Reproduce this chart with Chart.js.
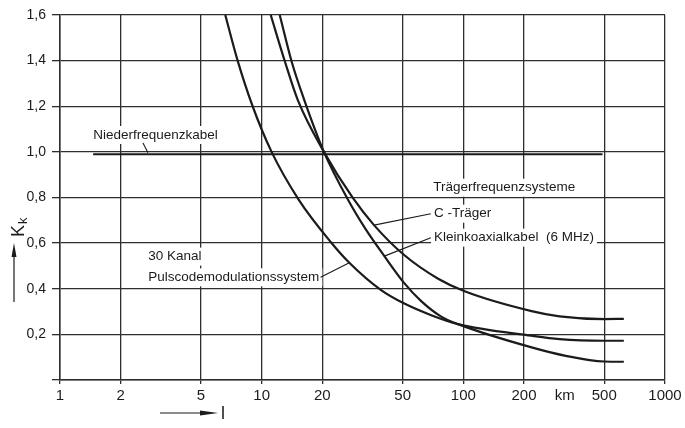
<!DOCTYPE html>
<html><head><meta charset="utf-8">
<script src="https://cdn.jsdelivr.net/npm/chart.js@4"></script>
<style>html,body{margin:0;padding:0;background:#fff}#wrap{width:685px;height:428px;position:relative}</style>
</head><body><div id="wrap"><canvas id="c" width="685" height="428"></canvas></div>
<script>
// ---- tick labels ----
const xTicks = [1, 2, 5, 10, 20, 50, 100, 200, 318, 500, 1000];
const xTickLabels = ['1', '2', '5', '10', '20', '50', '100', '200', 'km', '500', '1000'];
const kmTick = 318;
const yTicks = [0, 0.2, 0.4, 0.6, 0.8, 1.0, 1.2, 1.4, 1.6];
const yTickLabels = ['', '0,2', '0,4', '0,6', '0,8', '1,0', '1,2', '1,4', '1,6'];

// ---- series (l in km, K_k) ----
const nfL = [1.46, 490];
const nfK = [0.99, 0.99];

const pcmL = [6.6, 7.6, 9.02, 11.2, 15.28, 22.0, 27.2, 39.1, 50.7, 69.3, 94.1, 218, 300, 500, 625];
const pcmK = [1.6, 1.4, 1.2, 1.0, 0.79, 0.605, 0.514, 0.394, 0.336, 0.284, 0.245, 0.194, 0.179, 0.172, 0.172];

const koaxL = [12.29, 14.1, 16.27, 20.35, 26.8, 32.9, 40.6, 50.7, 61.8, 77.7, 94.1, 218, 322, 500, 625];
const koaxK = [1.6, 1.394, 1.227, 1.0, 0.79, 0.659, 0.543, 0.427, 0.346, 0.278, 0.245, 0.143, 0.106, 0.081, 0.08];

const ctrL = [11.09, 13.06, 15.11, 20.35, 28.27, 36.07, 50.7, 75, 101.5, 218, 300, 500, 625];
const ctrK = [1.6, 1.394, 1.227, 1.0, 0.799, 0.679, 0.549, 0.444, 0.389, 0.302, 0.279, 0.267, 0.268];

// ---- annotation texts (anchored in data coordinates) ----
const labelTexts = ['Niederfrequenzkabel', 'Trägerfrequenzsysteme', 'C -Träger', 'Kleinkoaxialkabel  (6 MHz)', '30 Kanal', 'Pulscodemodulationssystem'];
const labelL = [1.46, 70.9, 71.6, 71.6, 2.74, 2.74];
const labelK = [1.074, 0.843, 0.729, 0.624, 0.541, 0.45];
// leader lines
const leaderFromL = [2.58, 69.0, 69.0, 19.6];
const leaderFromK = [1.039, 0.729, 0.624, 0.45];
const leaderToL = [2.73, 36.1, 40.6, 27.2];
const leaderToK = [0.996, 0.679, 0.543, 0.514];

const toPts = (xs, ys) => xs.map((x, i) => ({x: x, y: ys[i]}));
const INK = '#1b1b1b';
const GRID = '#2e2e2e';
const FONT = "'Liberation Sans', Arial, sans-serif";

const lineDs = (label, xs, ys, w) => ({
  label, data: toPts(xs, ys), showLine: true, borderColor: INK, borderWidth: w,
  pointRadius: 0, cubicInterpolationMode: 'monotone', fill: false
});

const annotPlugin = {
  id: 'annot',
  beforeDatasetsDraw(chart) {
    const c = chart.ctx, xs = chart.scales.x, ys = chart.scales.y;
    c.save();
    c.font = '13.5px ' + FONT;
    c.textBaseline = 'middle';
    c.textAlign = 'left';
    labelTexts.forEach((t, i) => {
      const px = xs.getPixelForValue(labelL[i]);
      const py = ys.getPixelForValue(labelK[i]);
      const w = c.measureText(t).width;
      c.fillStyle = '#fff';
      c.fillRect(px - 3, py - 9, w + 6, 18);
      c.fillStyle = INK;
      c.fillText(t, px, py);
    });
    c.restore();
  },
  afterDatasetsDraw(chart) {
    const c = chart.ctx, xs = chart.scales.x, ys = chart.scales.y, a = chart.chartArea;
    c.save();
    c.strokeStyle = INK;
    c.lineWidth = 1.1;
    leaderFromL.forEach((_, i) => {
      c.beginPath();
      c.moveTo(xs.getPixelForValue(leaderFromL[i]), ys.getPixelForValue(leaderFromK[i]));
      c.lineTo(xs.getPixelForValue(leaderToL[i]), ys.getPixelForValue(leaderToK[i]));
      c.stroke();
    });
    // y axis title K_k with upward arrow
    c.fillStyle = INK;
    c.save();
    c.translate(a.left - 36, a.top + 222);
    c.rotate(-Math.PI / 2);
    c.textBaseline = 'alphabetic';
    c.textAlign = 'left';
    c.font = '18px ' + FONT;
    c.fillText('K', 0, 0);
    const kw = c.measureText('K').width;
    c.font = '13px ' + FONT;
    c.fillText('k', kw + 1, 3);
    c.restore();
    const ax = a.left - 46;
    c.lineWidth = 1.2;
    c.beginPath(); c.moveTo(ax, a.top + 287); c.lineTo(ax, a.top + 240); c.stroke();
    c.beginPath(); c.moveTo(ax, a.top + 228); c.lineTo(ax - 2.5, a.top + 242); c.lineTo(ax + 2.5, a.top + 242); c.closePath(); c.fill();
    // x axis title l with right arrow
    const ay = a.bottom + 33;
    c.beginPath(); c.moveTo(a.left + 100, ay); c.lineTo(a.left + 146, ay); c.stroke();
    c.beginPath(); c.moveTo(a.left + 158, ay); c.lineTo(a.left + 140, ay - 2.5); c.lineTo(a.left + 140, ay + 2.5); c.closePath(); c.fill();
    c.font = '18px ' + FONT;
    c.textBaseline = 'middle';
    c.textAlign = 'left';
    c.fillText('l', a.left + 161, ay + 1);
    c.restore();
  }
};

new Chart(document.getElementById('c'), {
  type: 'scatter',
  data: {
    datasets: [
      lineDs('Niederfrequenzkabel', nfL, nfK, 2),
      lineDs('Pulscodemodulationssystem', pcmL, pcmK, 2.2),
      lineDs('Kleinkoaxialkabel', koaxL, koaxK, 2.2),
      lineDs('C-Träger', ctrL, ctrK, 2.2)
    ]
  },
  options: {
    responsive: false,
    animation: false,
    devicePixelRatio: 1,
    layout: { padding: { top: 15, right: 20, left: 0, bottom: 0 } },
    plugins: { legend: { display: false }, tooltip: { enabled: false } },
    scales: {
      x: {
        type: 'logarithmic', min: 1, max: 1000,
        afterBuildTicks: (s) => { s.ticks = xTicks.map(v => ({value: v})); },
        afterFit: (s) => { s.height = 48; },
        ticks: {
          autoSkip: false, maxRotation: 0, padding: 3, color: INK,
          font: { size: 15, family: FONT },
          callback: (v, i) => xTickLabels[i]
        },
        grid: {
          color: (ctx) => (ctx.tick && ctx.tick.value === kmTick) ? 'rgba(0,0,0,0)' : GRID,
          lineWidth: 1.3, tickLength: 4
        },
        border: { color: GRID, width: 1.5 }
      },
      y: {
        type: 'linear', min: 0, max: 1.6,
        afterBuildTicks: (s) => { s.ticks = yTicks.map(v => ({value: v})); },
        afterFit: (s) => { s.width = 60; },
        ticks: {
          padding: 6, color: INK,
          font: { size: 14, family: FONT },
          callback: (v, i) => yTickLabels[i]
        },
        grid: { color: GRID, lineWidth: 1.3, tickLength: 8 },
        border: { color: GRID, width: 1.5 }
      }
    }
  },
  plugins: [annotPlugin]
});
</script></body></html>
